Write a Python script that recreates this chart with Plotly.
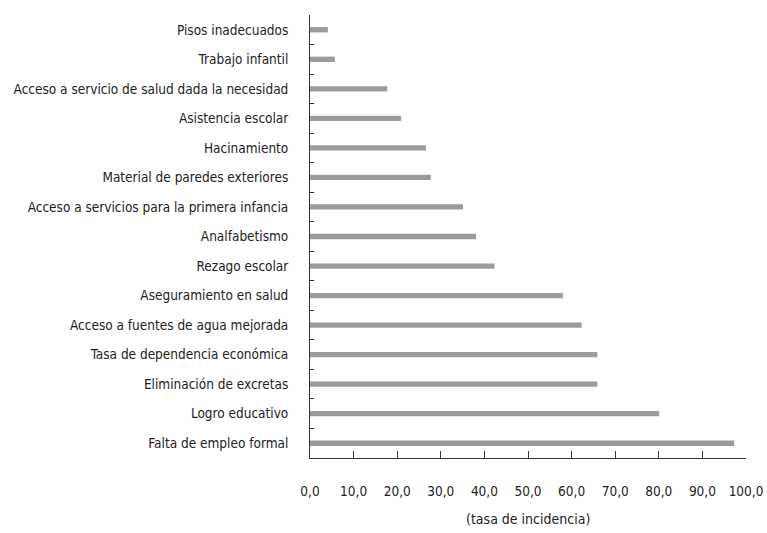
import plotly.graph_objects as go

categories = [
    "Pisos inadecuados",
    "Trabajo infantil",
    "Acceso a servicio de salud dada la necesidad",
    "Asistencia escolar",
    "Hacinamiento",
    "Material de paredes exteriores",
    "Acceso a servicios para la primera infancia",
    "Analfabetismo",
    "Rezago escolar",
    "Aseguramiento en salud",
    "Acceso a fuentes de agua mejorada",
    "Tasa de dependencia económica",
    "Eliminación de excretas",
    "Logro educativo",
    "Falta de empleo formal",
]
values = [4.1, 5.7, 17.7, 20.9, 26.6, 27.7, 35.1, 38.1, 42.3, 58.0, 62.3, 65.9, 65.9, 80.1, 97.3]
x_ticks = [0, 10, 20, 30, 40, 50, 60, 70, 80, 90, 100]
x_title = "(tasa de incidencia)"

FONT = "Liberation Sans Narrow, Arial Narrow, DejaVu Sans Condensed, sans-serif"

fig = go.Figure(go.Bar(
    y=categories, x=values, orientation="h",
    marker=dict(color="#9b9b9b", line=dict(width=0)),
    width=0.18,
))

fig.update_layout(
    width=767, height=533,
    margin=dict(l=309.5, r=21, t=15, b=74.5, autoexpand=False),
    paper_bgcolor="white", plot_bgcolor="white",
    separators=",.",
    showlegend=False,
    font=dict(family=FONT, size=13.5, color="#222"),
    xaxis=dict(
        range=[0, 100], tickvals=x_ticks, tickformat=".1f",
        showgrid=False, zeroline=False, automargin=False,
        showline=True, linecolor="#333", linewidth=1,
        ticks="inside", ticklen=7, tickcolor="#333", tickwidth=1,
        ticklabelstandoff=21,
        tickfont=dict(family=FONT, size=13.5, color="#222"),
    ),
    yaxis=dict(
        categoryorder="array", categoryarray=categories,
        autorange="reversed", automargin=False,
        showgrid=False, zeroline=False,
        showline=True, linecolor="#333", linewidth=1,
        ticks="inside", ticklen=4, tickcolor="#333", tickwidth=1,
        tickson="boundaries",
        ticklabelstandoff=18,
        tickfont=dict(family=FONT, size=13.5, color="#222"),
    ),
    annotations=[dict(
        text=x_title, xref="paper", yref="paper", x=0.5, y=-0.137,
        xanchor="center", yanchor="middle", showarrow=False,
        font=dict(family=FONT, size=14, color="#222"),
    )],
)

fig.write_html("out.html", config={"displayModeBar": False},
               post_script="document.body.style.margin='0';")
